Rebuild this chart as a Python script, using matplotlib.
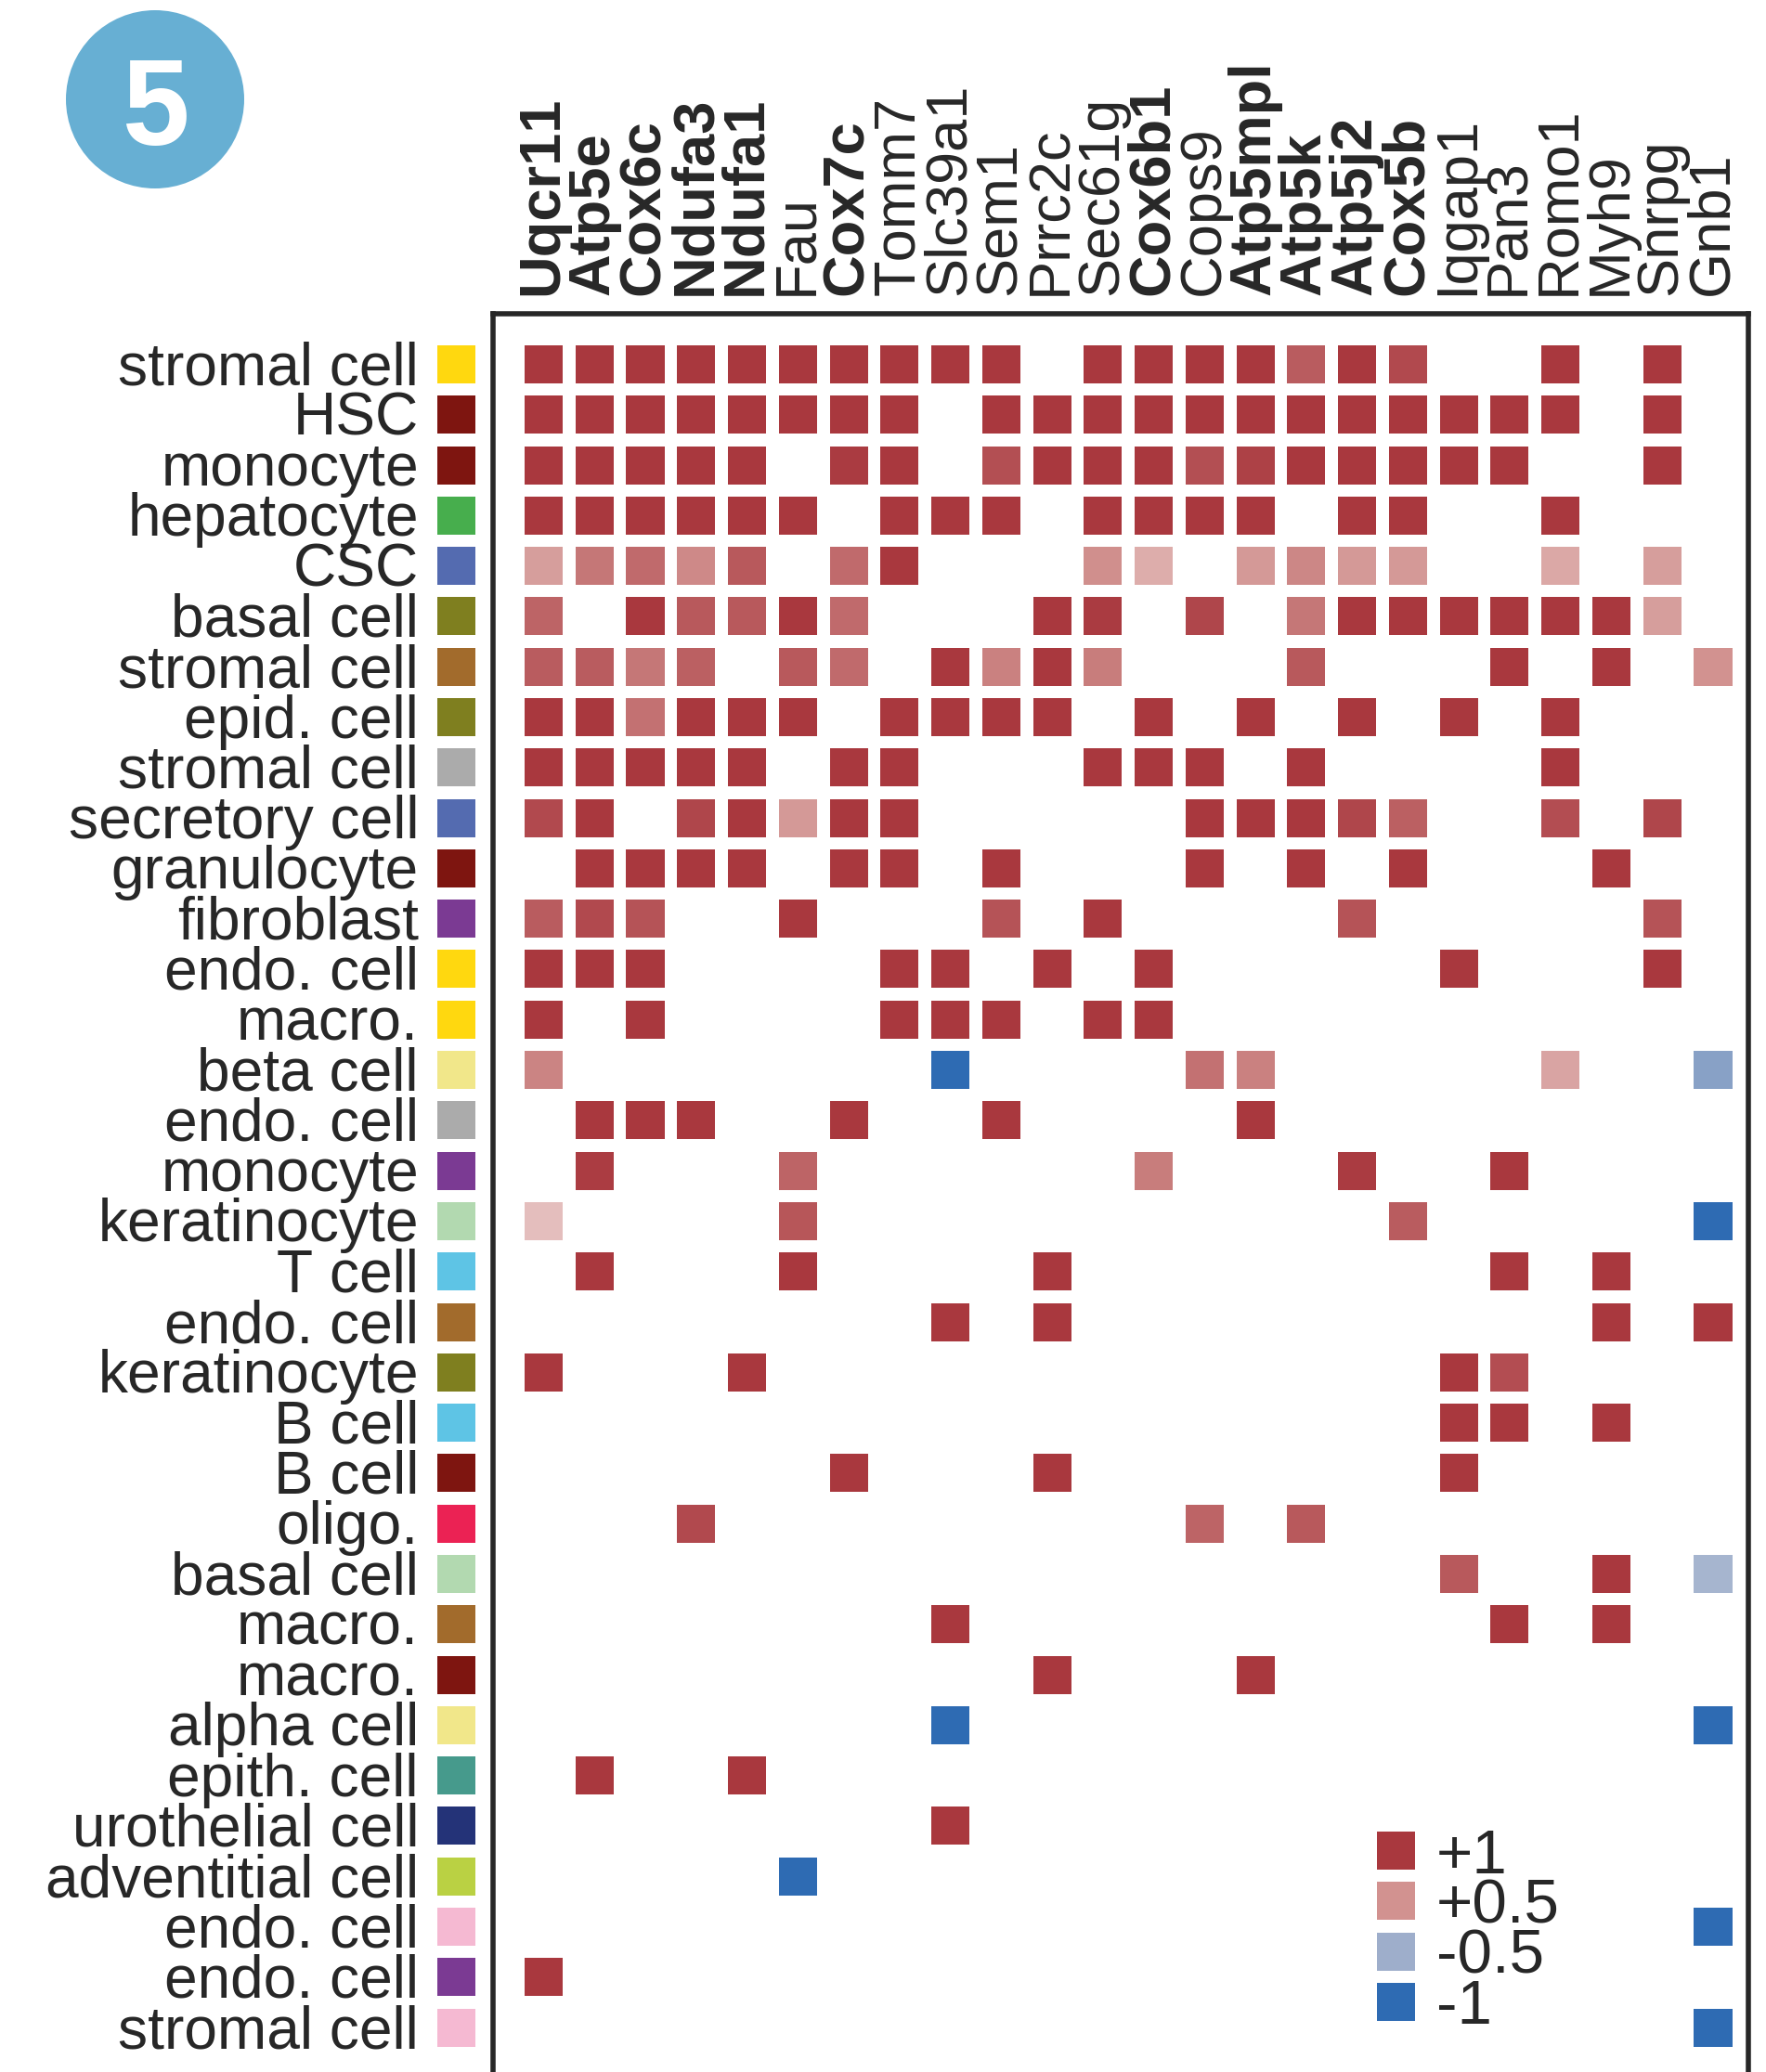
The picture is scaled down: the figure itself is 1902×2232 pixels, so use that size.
import matplotlib
matplotlib.use("Agg")
import matplotlib.pyplot as plt
from matplotlib.colors import LinearSegmentedColormap
from matplotlib.patches import Rectangle, Circle, Patch

plt.rcParams['font.family'] = ['Liberation Sans', 'DejaVu Sans']
plt.rcParams['text.kerning_factor'] = 16

genes = ["Uqcr11","Atp5e","Cox6c","Ndufa3","Ndufa1","Fau","Cox7c","Tomm7","Slc39a1","Sem1","Prrc2c","Sec61g",
         "Cox6b1","Cops9","Atp5mpl","Atp5k","Atp5j2","Cox5b","Iqgap1","Pan3","Romo1","Myh9","Snrpg","Gnb1"]
bold_genes = ["Uqcr11","Atp5e","Cox6c","Ndufa3","Ndufa1","Cox7c","Cox6b1","Atp5mpl","Atp5k","Atp5j2","Cox5b"]

cell_types = ["stromal cell","HSC","monocyte","hepatocyte","CSC","basal cell","stromal cell","epid. cell","stromal cell",
              "secretory cell","granulocyte","fibroblast","endo. cell","macro.","beta cell","endo. cell","monocyte",
              "keratinocyte","T cell","endo. cell","keratinocyte","B cell","B cell","oligo.","basal cell","macro.",
              "macro.","alpha cell","epith. cell","urothelial cell","adventitial cell","endo. cell","endo. cell","stromal cell"]
swatches = ["#FFD80F","#7E1510","#7E1510","#47AE4D","#546BB0","#7F7F1F","#A26B2C","#7F7F1F","#ABABAB","#546BB0","#7E1510",
            "#7B3A93","#FFD80F","#FFD80F","#F1E78A","#ABABAB","#7B3A93","#B2D9B0","#5EC4E5","#A26B2C","#7F7F1F","#5EC4E5",
            "#7E1510","#EB2254","#B2D9B0","#A26B2C","#7E1510","#F1E78A","#469A8C","#243378","#BAD143","#F5B9D2","#7B3A93","#F5B9D2"]

# one row per cell type, one column per gene; 0 = no mark
scores = [
 [1,1,1,1,1,1,1,1,1,1,0,1,1,1,1,.8,1,.9,0,0,1,0,1,0],
 [1,1,1,1,1,1,1,1,0,1,1,1,1,1,1,1,1,1,1,1,1,0,1,0],
 [1,1,1,1,1,0,.98,1,0,.87,1,1,1,.87,.95,1,1,1,1,1,0,0,1,0],
 [1,1,1,1,1,1,0,1,1,1,0,1,1,1,1,0,1,1,0,0,1,0,0,0],
 [.45,.65,.72,.55,.82,0,.72,1,0,0,0,.52,.38,0,.47,.57,.47,.47,0,0,.4,0,.45,0],
 [.75,0,1,.82,.82,1,.72,0,0,0,1,.98,0,.92,0,.65,1,1,1,1,1,1,.45,0],
 [.8,.8,.65,.78,0,.82,.72,0,1,.6,1,.62,0,0,0,.82,0,0,0,1,0,1,0,.5],
 [1,1,.68,1,1,1,0,1,1,1,1,0,1,0,1,0,1,0,1,0,1,0,0,0],
 [1,1,1,1,1,0,1,1,0,0,0,1,1,1,0,1,0,0,0,0,1,0,0,0],
 [.9,1,0,.92,1,.47,1,1,0,0,0,0,0,1,1,1,.92,.78,0,0,.88,0,.92,0],
 [0,1,1,1,1,0,1,1,0,1,0,0,0,1,0,1,0,1,0,0,0,1,0,0],
 [.8,.9,.85,0,0,1,0,0,0,.85,0,1,0,0,0,0,.85,0,0,0,0,0,.85,0],
 [1,1,1,0,0,0,0,1,1,0,1,0,1,0,0,0,0,0,1,0,0,0,1,0],
 [1,0,1,0,0,0,0,1,1,1,0,1,1,0,0,0,0,0,0,0,0,0,0,0],
 [.58,0,0,0,0,0,0,0,-1,0,0,0,0,.68,.6,0,0,0,0,0,.42,0,0,-.6],
 [0,1,1,1,0,0,1,0,0,1,0,0,0,0,1,0,0,0,0,0,0,0,0,0],
 [0,.97,0,0,0,.75,0,0,0,0,0,0,.62,0,0,0,.98,0,0,1,0,0,0,0],
 [.3,0,0,0,0,.83,0,0,0,0,0,0,0,0,0,0,0,.8,0,0,0,0,0,-1],
 [0,1,0,0,0,1,0,0,0,0,1,0,0,0,0,0,0,0,0,1,0,1,0,0],
 [0,0,0,0,0,0,0,0,1,0,1,0,0,0,0,0,0,0,0,0,0,1,0,1],
 [1,0,0,0,1,0,0,0,0,0,0,0,0,0,0,0,0,0,1,.88,0,0,0,0],
 [0,0,0,0,0,0,0,0,0,0,0,0,0,0,0,0,0,0,1,1,0,1,0,0],
 [0,0,0,0,0,0,1,0,0,0,1,0,0,0,0,0,0,0,1,0,0,0,0,0],
 [0,0,0,.9,0,0,0,0,0,0,0,0,0,.75,0,.82,0,0,0,0,0,0,0,0],
 [0,0,0,0,0,0,0,0,0,0,0,0,0,0,0,0,0,0,.82,0,0,1,0,-.46],
 [0,0,0,0,0,0,0,0,1,0,0,0,0,0,0,0,0,0,0,1,0,1,0,0],
 [0,0,0,0,0,0,0,0,0,0,1,0,0,0,1,0,0,0,0,0,0,0,0,0],
 [0,0,0,0,0,0,0,0,-1,0,0,0,0,0,0,0,0,0,0,0,0,0,0,-1],
 [0,1,0,0,1,0,0,0,0,0,0,0,0,0,0,0,0,0,0,0,0,0,0,0],
 [0,0,0,0,0,0,0,0,1,0,0,0,0,0,0,0,0,0,0,0,0,0,0,0],
 [0,0,0,0,0,-1,0,0,0,0,0,0,0,0,0,0,0,0,0,0,0,0,0,0],
 [0,0,0,0,0,0,0,0,0,0,0,0,0,0,0,0,0,0,0,0,0,0,0,-1],
 [1,0,0,0,0,0,0,0,0,0,0,0,0,0,0,0,0,0,0,0,0,0,0,0],
 [0,0,0,0,0,0,0,0,0,0,0,0,0,0,0,0,0,0,0,0,0,0,0,-1],
]
legend_values = [1, .5, -.5, -1]
legend_labels = ["+1", "+0.5", "-0.5", "-1"]

INK = "#272727"
W, H = 1902, 2232
cmap = LinearSegmentedColormap.from_list(
    "rb", [(0, "#2E6BB3"), (.25, "#9EAECB"), (.5, "#FFFFFF"), (.75, "#D29391"), (1, "#A9383E")])
color_of = lambda v: cmap((v + 1) / 2)

fig = plt.figure(figsize=(W / 100, H / 100), dpi=100, facecolor="white")

def px_axes(l, t, r, b):
    return fig.add_axes([l / W, 1 - b / H, (r - l) / W, (b - t) / H])

# main panel
FL, FT, FR, FB = 530.5, 338, 1883, 2232
ax = px_axes(FL, FT, FR, FB)
X0, DX, Y0, DY = 585.5, 54.76, 392.5, 54.29
ax.set_xlim((FL - X0) / DX, (FR - X0) / DX)
ax.set_ylim((FB - Y0) / DY, (FT - Y0) / DY)
ax.set_xticks([]); ax.set_yticks([])
for s in ["top", "left", "right"]:
    ax.spines[s].set_linewidth(4.0)
    ax.spines[s].set_color(INK)
ax.spines["bottom"].set_visible(False)

cw, ch = 0.75, 0.755
for r, row in enumerate(scores):
    for c, v in enumerate(row):
        if v != 0:
            ax.add_patch(Rectangle((c - cw / 2, r - ch / 2), cw, ch, fc=color_of(v), lw=0))

# gene labels
for c, g in enumerate(genes):
    ax.annotate(g, xy=(c, 1), xycoords=("data", "axes fraction"), xytext=(15, 20), textcoords="offset pixels",
                rotation=90, rotation_mode="anchor", ha="left", va="baseline", fontsize=45.5, color=INK,
                fontweight="bold" if g in bold_genes else "normal", annotation_clip=False)

# swatch strip and row labels
ax_sw = px_axes(471, FT, 512, FB)
ax_sw.set_xlim(0, 1)
ax_sw.set_ylim(ax.get_ylim())
ax_sw.axis("off")
for r, (name, col) in enumerate(zip(cell_types, swatches)):
    ax_sw.add_patch(Rectangle((0, r - ch / 2), 1, ch, fc=col, lw=0))
    ax_sw.annotate(name, xy=(0, r), xycoords="data", xytext=(-20, -22), textcoords="offset pixels",
                   ha="right", va="baseline", fontsize=46.1, color=INK, annotation_clip=False)

# legend
handles = [Patch(fc=color_of(v), lw=0) for v in legend_values]
leg = ax.legend(handles, legend_labels, loc="upper left", bbox_to_anchor=(1483 / W, 1 - 1969.5 / H),
                bbox_transform=fig.transFigure, frameon=False, fontsize=48.5, labelcolor=INK,
                handlelength=0.607, handleheight=0.559, handletextpad=0.34, labelspacing=-0.116,
                borderpad=0, borderaxespad=0)

# badge
ax_b = px_axes(167 - 96, 107 - 96, 167 + 96, 107 + 96)
ax_b.set_xlim(-1, 1); ax_b.set_ylim(-1, 1); ax_b.axis("off")
ax_b.add_patch(Circle((0, 0), 1, fc="#67AFD3", lw=0))
ax_b.text(0.0, -0.01, "5", color="white", fontsize=94, fontweight="bold", ha="center", va="center_baseline")

fig.savefig("out.png", dpi=100, facecolor="white")
